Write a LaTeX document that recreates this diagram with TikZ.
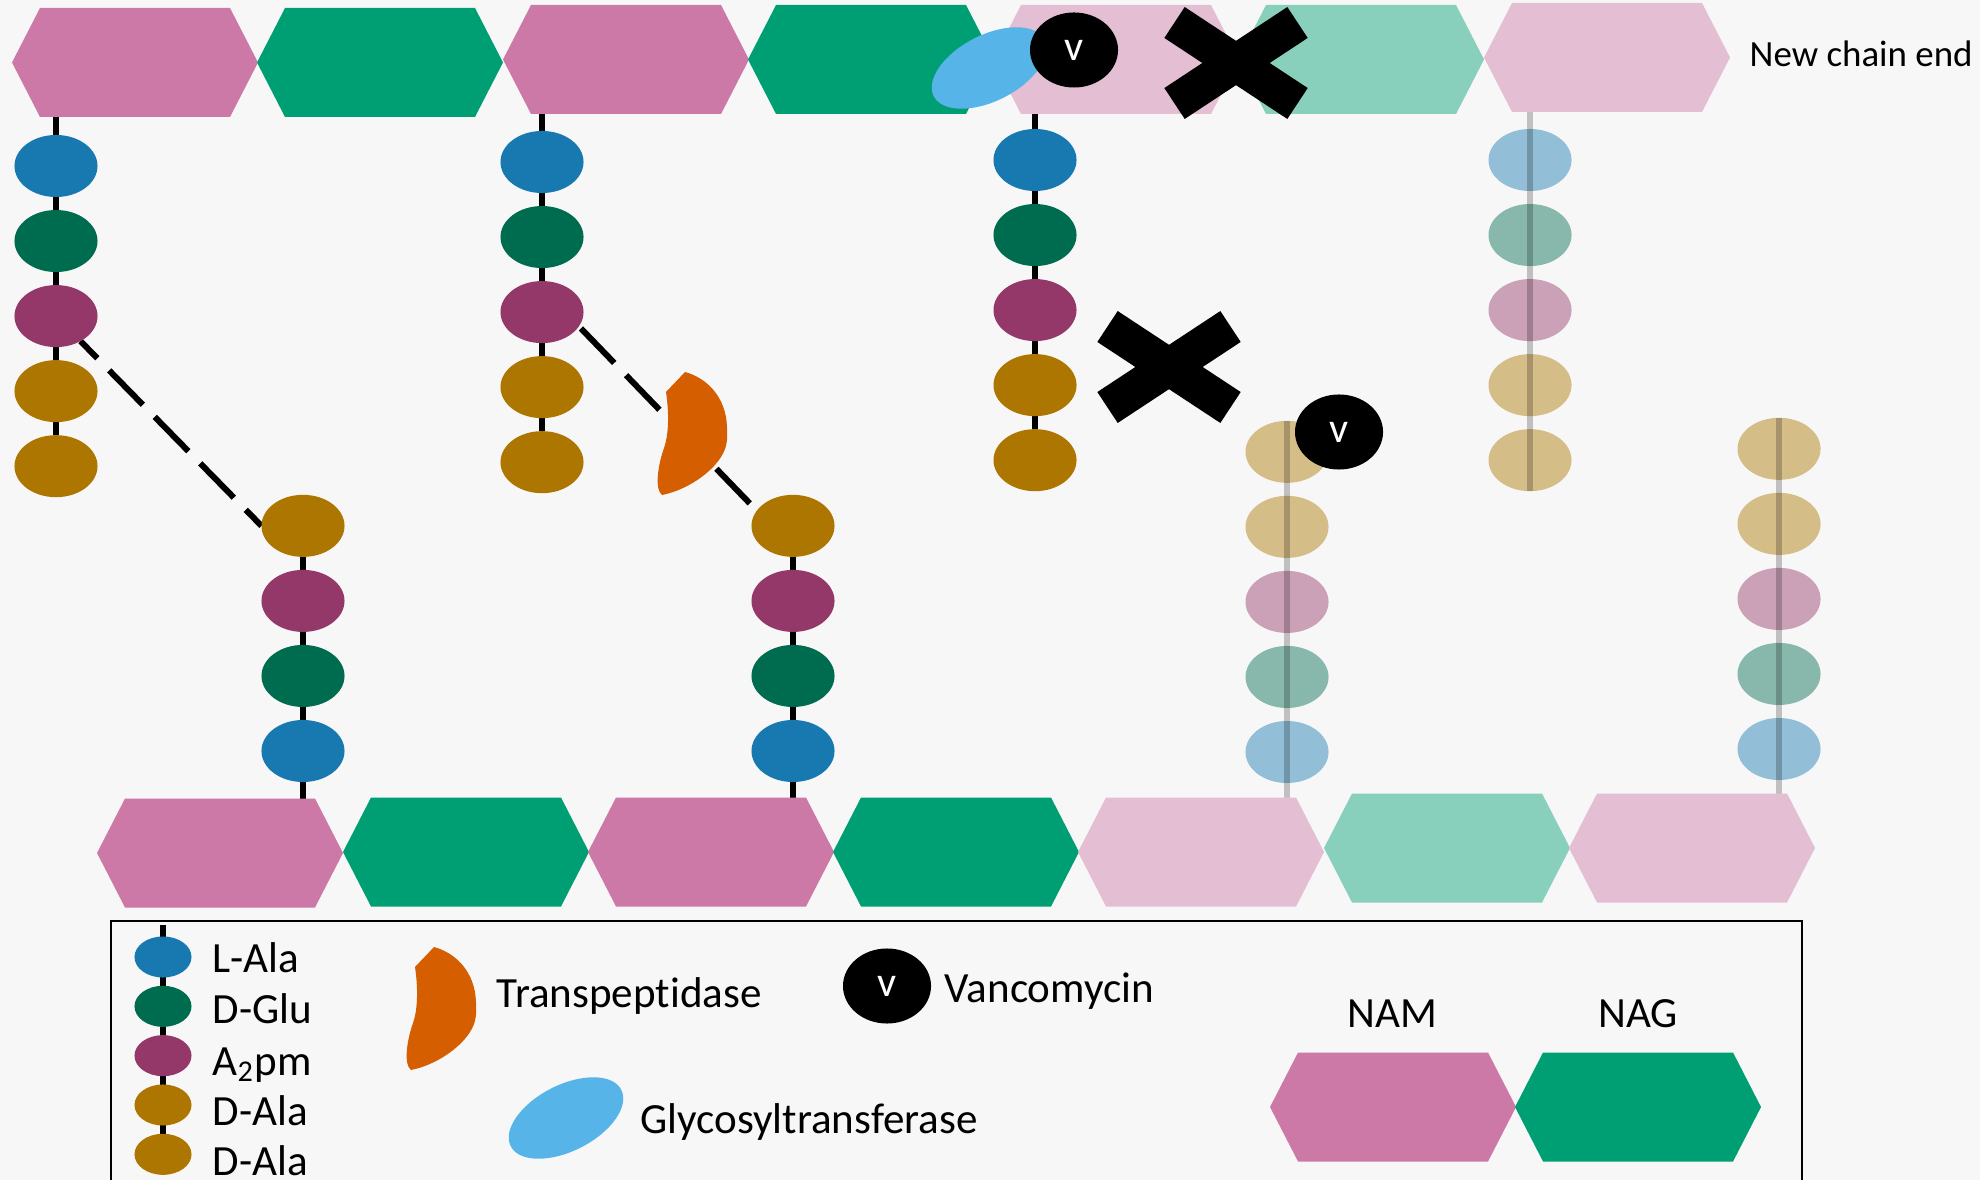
\documentclass[tikz,border=0pt]{standalone}
\usepackage{fontspec}
\setmainfont{Carlito}[Ligatures={NoCommon}]
\usepackage{tikz}
\usetikzlibrary{shapes.geometric,positioning,calc}

\definecolor{bgc}{HTML}{F7F7F7}
\definecolor{nam}{HTML}{CC79A7}
\definecolor{nag}{HTML}{009E73}
\definecolor{ala}{HTML}{1878B0}
\definecolor{glu}{HTML}{006C4F}
\definecolor{dap}{HTML}{943869}
\definecolor{dala}{HTML}{AC7600}
\definecolor{tpcol}{HTML}{D55E00}
\definecolor{gtcol}{HTML}{56B4E9}

\pgfdeclarelayer{bg}
\pgfdeclarelayer{front}
\pgfsetlayers{bg,main,front}

\tikzstyle{bead} = [ellipse, minimum width=0.83cm, minimum height=0.62cm,
    inner sep=0pt, outer sep=0pt]
\tikzstyle{keybead} = [ellipse, minimum width=0.57cm, minimum height=0.41cm,
    inner sep=0pt, outer sep=0pt]
\tikzstyle{stem} = [line width=0.055cm]
\tikzstyle{ghost} = [line width=0.055cm, draw opacity=0.22]
\tikzstyle{crosslink} = [line width=0.06cm, dash pattern=on 0.48cm off 0.17cm]
\tikzstyle{vanco} = [ellipse, fill=black, text=white, minimum width=0.88cm,
    minimum height=0.75cm, inner sep=0pt, font=\fontsize{12}{14}\selectfont]
\tikzstyle{gtase} = [ellipse, fill=gtcol, minimum width=1.24cm,
    minimum height=0.66cm, inner sep=0pt]
\tikzstyle{keytext} = [anchor=base west, inner sep=0pt,
    font=\fontsize{12.25}{14}\selectfont]

\tikzset{
  enzyme/.pic={
    \fill[tpcol] (0,0) .. controls (22,6) and (41,25) .. (42,55)
      .. controls (43,70) and (41,77) .. (36,85)
      .. controls (26,101) and (2,118) .. (-23,123)
      .. controls (-30,118) and (-28,96) .. (-21,76)
      .. controls (-16,62) and (-16,40) .. (-19,20) -- cycle;
  },
  knockout/.pic={
    \draw[line width=0.37cm] (-61.5,-40.5) -- (61.5,40.5)
      (-61.5,40.5) -- (61.5,-40.5);
  }
}

% sugar ring: name, x, y, colour
\newcommand{\sugar}[4]{%
  \coordinate (#1) at (#2,#3);
  \begin{pgfonlayer}{front}
    \fill[#4] (#1) ++(-123,0) -- ++(28,-54.5) -- ++(190,0) -- ++(28,54.5)
      -- ++(-28,54.5) -- ++(-190,0) -- cycle;
  \end{pgfonlayer}}

\begin{document}
\begin{tikzpicture}[x=0.01cm, y=-0.01cm]
	\useasboundingbox (0,0) rectangle (1980,1180);
	\begin{pgfonlayer}{bg}
		\fill[bgc] (0,0) rectangle (1980,1180);
	\end{pgfonlayer}
	\clip (0,0) rectangle (1980,1180);
	
	% glycan strands
	\sugar{gu1}{135}{62.5}{nam}
	\sugar{gu2}{380}{62.5}{nag}
	\sugar{gu3}{626}{59.5}{nam}
	\sugar{gu4}{871}{59.5}{nag}
	\sugar{gu5}{1116}{59.5}{nam!45!bgc}
	\sugar{gu6}{1361}{59.5}{nag!45!bgc}
	\sugar{gu7}{1607}{57.5}{nam!45!bgc}
	
	\sugar{gl1}{220}{853}{nam}
	\sugar{gl2}{466}{852}{nag}
	\sugar{gl3}{711}{852}{nam}
	\sugar{gl4}{956}{852}{nag}
	\sugar{gl5}{1201}{852}{nam!45!bgc}
	\sugar{gl6}{1447}{848}{nag!45!bgc}
	\sugar{gl7}{1692}{848}{nam!45!bgc}
	
	% upper stem peptides
	\foreach \n/\x/\y/\g in {1/56/166/1, 2/542/162/3, 3/1035/160/5} {
		\node[bead, fill=ala] (u\n a) at (\x,\y) {};
		\node[bead, fill=glu, below=0.13cm of u\n a] (u\n b) {};
		\node[bead, fill=dap, below=0.13cm of u\n b] (u\n c) {};
		\node[bead, fill=dala, below=0.13cm of u\n c] (u\n d) {};
		\node[bead, fill=dala, below=0.13cm of u\n d] (u\n e) {};
		\begin{pgfonlayer}{bg}
			\draw[stem] (u\n a |- gu\g) -- (u\n e);
		\end{pgfonlayer}
	}
	\node[bead, fill=ala!45!bgc] (u4a) at (1530,160) {};
	\node[bead, fill=glu!45!bgc, below=0.13cm of u4a] (u4b) {};
	\node[bead, fill=dap!45!bgc, below=0.13cm of u4b] (u4c) {};
	\node[bead, fill=dala!45!bgc, below=0.13cm of u4c] (u4d) {};
	\node[bead, fill=dala!45!bgc, below=0.13cm of u4d] (u4e) {};
	\draw[ghost] (u4e.south) -- (u4e.south |- gu7);
	
	% lower stem peptides
	\foreach \n/\x/\g in {1/303/1, 2/793/3} {
		\node[bead, fill=ala] (l\n a) at (\x,751) {};
		\node[bead, fill=glu, above=0.13cm of l\n a] (l\n b) {};
		\node[bead, fill=dap, above=0.13cm of l\n b] (l\n c) {};
		\node[bead, fill=dala, above=0.13cm of l\n c] (l\n d) {};
		\begin{pgfonlayer}{bg}
			\draw[stem] (l\n a |- gl\g) -- (l\n d);
		\end{pgfonlayer}
	}
	\foreach \n/\x/\y/\g in {3/1287/752/5, 4/1779/749/7} {
		\node[bead, fill=ala!45!bgc] (l\n a) at (\x,\y) {};
		\node[bead, fill=glu!45!bgc, above=0.13cm of l\n a] (l\n b) {};
		\node[bead, fill=dap!45!bgc, above=0.13cm of l\n b] (l\n c) {};
		\node[bead, fill=dala!45!bgc, above=0.13cm of l\n c] (l\n d) {};
		\node[bead, fill=dala!45!bgc, above=0.13cm of l\n d] (l\n e) {};
		\draw[ghost] (l\n e.north) -- (l\n e.north |- gl\g);
	}
	
	% cross-links
	\begin{pgfonlayer}{bg}
		\draw[crosslink, dash phase=0.24cm] (u1c) -- (l1d.west);
		\draw[crosslink, dash phase=0.09cm] ($(u2c)+(0,-24)$) -- ($(l2d.west)+(20,0)$);
	\end{pgfonlayer}
	\pic at (685,372) {enzyme};
	
	% blocked sites
	\node[vanco] (v2) at (1339,432) {v};
	\pic at (1169,367) {knockout};
	\begin{pgfonlayer}{front}
		\node[gtase, rotate=27] (gt1) at (989,68) {};
		\node[vanco] (v1) at (1074,50) {v};
		\pic at (1236,63) {knockout};
	\end{pgfonlayer}
	\node[anchor=base west, inner sep=0pt, font=\fontsize{10.5}{12}\selectfont] (newend) at (1749,67) {New chain end};
	
	% key
	\draw[line width=0.02cm] (111,921) rectangle (1802,1200);
	\coordinate (kg) at (163,925);
	\node[keybead, fill=ala] (k1) at (163,957) {};
	\node[keybead, fill=glu, below=0.083cm of k1] (k2) {};
	\node[keybead, fill=dap, below=0.083cm of k2] (k3) {};
	\node[keybead, fill=dala, below=0.083cm of k3] (k4) {};
	\node[keybead, fill=dala, below=0.083cm of k4] (k5) {};
	\begin{pgfonlayer}{bg}
		\draw[stem] (kg) -- (k5);
	\end{pgfonlayer}
	\node[keytext] (t1) at (212,972) {L-Ala};
	\node[keytext] (t2) at (212,1023) {D-Glu};
	\node[keytext] (t3) at (212,1075) {A\textsubscript{2}pm};
	\node[keytext] (t4) at (212,1125) {D-Ala};
	\node[keytext] (t5) at (212,1175) {D-Ala};
	
	\pic at (434,947) {enzyme};
	\node[keytext] (ttp) at (496,1007) {Transpeptidase};
	\node[vanco] (v3) at (887,986) {v};
	\node[keytext] (tv) at (944,1002) {Vancomycin};
	\node[gtase, rotate=27] (gt2) at (566,1118) {};
	\node[keytext] (tgt) at (640,1133) {Glycosyltransferase};
	
	\sugar{keynam}{1393}{1107}{nam}
	\sugar{keynag}{1638}{1107}{nag}
	\node[keytext, anchor=base] (tnam) at (1392,1027) {NAM};
	\node[keytext, anchor=base] (tnag) at (1638,1027) {NAG};
\end{tikzpicture}
\end{document}
